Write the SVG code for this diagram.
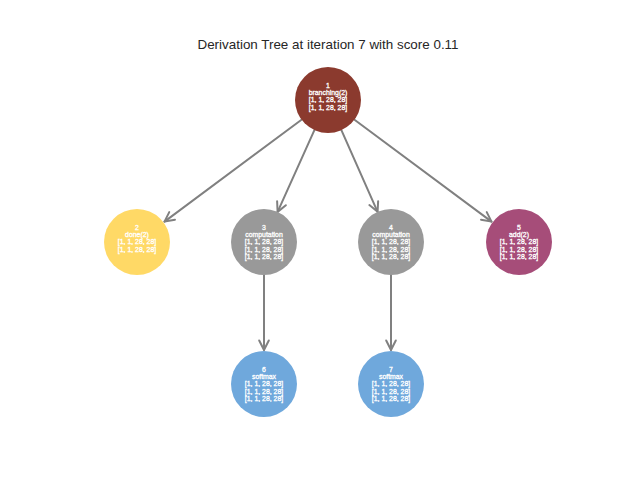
<svg xmlns="http://www.w3.org/2000/svg" width="640" height="480" viewBox="0 0 640 480">
<defs>
<marker id="arr" viewBox="-12 -7 14 14" refX="0" refY="0" markerWidth="14" markerHeight="14" markerUnits="userSpaceOnUse" orient="auto">
<path d="M -9.5 -4.8 L 0 0 L -9.5 4.8" fill="none" stroke="#808080" stroke-width="2" stroke-linecap="round" stroke-linejoin="round"/>
</marker>
<style>
.e{stroke:#808080;stroke-width:2;fill:none;marker-end:url(#arr);stroke-linecap:round}
.t{font-family:"Liberation Sans",Arial,sans-serif;font-size:6.9px;fill:#ffffff;stroke:#ffffff;stroke-width:0.3px;text-anchor:middle}
.title{font-family:"Liberation Sans",Arial,sans-serif;font-size:13.4px;fill:#262626;text-anchor:middle}
</style>
</defs>
<rect width="640" height="480" fill="#ffffff"/>
<text class="title" x="328" y="49">Derivation Tree at iteration 7 with score 0.11</text>
<g id="edges">
<line class="e" x1="301.5" y1="119.7" x2="164.5" y2="221.6"/>
<line class="e" x1="314.4" y1="130.1" x2="277.6" y2="211.9"/>
<line class="e" x1="341.4" y1="130.2" x2="377.6" y2="211.8"/>
<line class="e" x1="354.5" y1="119.7" x2="491.5" y2="221.6"/>
<line class="e" x1="264" y1="275" x2="264" y2="350"/>
<line class="e" x1="391" y1="275" x2="391" y2="350"/>
</g>
<g id="node1">
<circle cx="328" cy="100" r="33" fill="#8b3a2e"/>
<text class="t" x="328" y="87.6">1</text>
<text class="t" x="328" y="94.9">branching(2)</text>
<text class="t" x="328" y="102.2">[1, 1, 28, 28]</text>
<text class="t" x="328" y="109.5">[1, 1, 28, 28]</text>
</g>
<g id="node2">
<circle cx="137" cy="242" r="33" fill="#ffd966"/>
<text class="t" x="137" y="229.8">2</text>
<text class="t" x="137" y="237.1">done(2)</text>
<text class="t" x="137" y="244.4">[1, 1, 28, 28]</text>
<text class="t" x="137" y="251.7">[1, 1, 28, 28]</text>
</g>
<g id="node3">
<circle cx="264" cy="242" r="33" fill="#999999"/>
<text class="t" x="264" y="229.8">3</text>
<text class="t" x="264" y="237.1">computation</text>
<text class="t" x="264" y="244.4">[1, 1, 28, 28]</text>
<text class="t" x="264" y="251.7">[1, 1, 28, 28]</text>
<text class="t" x="264" y="259">[1, 1, 28, 28]</text>
</g>
<g id="node4">
<circle cx="391" cy="242" r="33" fill="#999999"/>
<text class="t" x="391" y="229.8">4</text>
<text class="t" x="391" y="237.1">computation</text>
<text class="t" x="391" y="244.4">[1, 1, 28, 28]</text>
<text class="t" x="391" y="251.7">[1, 1, 28, 28]</text>
<text class="t" x="391" y="259">[1, 1, 28, 28]</text>
</g>
<g id="node5">
<circle cx="519" cy="242" r="33" fill="#a64d79"/>
<text class="t" x="519" y="229.8">5</text>
<text class="t" x="519" y="237.1">add(2)</text>
<text class="t" x="519" y="244.4">[1, 1, 28, 28]</text>
<text class="t" x="519" y="251.7">[1, 1, 28, 28]</text>
<text class="t" x="519" y="259">[1, 1, 28, 28]</text>
</g>
<g id="node6">
<circle cx="264" cy="384" r="33" fill="#6fa8dc"/>
<text class="t" x="264" y="371.8">6</text>
<text class="t" x="264" y="379.1">softmax</text>
<text class="t" x="264" y="386.4">[1, 1, 28, 28]</text>
<text class="t" x="264" y="393.7">[1, 1, 28, 28]</text>
<text class="t" x="264" y="401">[1, 1, 28, 28]</text>
</g>
<g id="node7">
<circle cx="391" cy="384" r="33" fill="#6fa8dc"/>
<text class="t" x="391" y="371.8">7</text>
<text class="t" x="391" y="379.1">softmax</text>
<text class="t" x="391" y="386.4">[1, 1, 28, 28]</text>
<text class="t" x="391" y="393.7">[1, 1, 28, 28]</text>
<text class="t" x="391" y="401">[1, 1, 28, 28]</text>
</g>
</svg>
